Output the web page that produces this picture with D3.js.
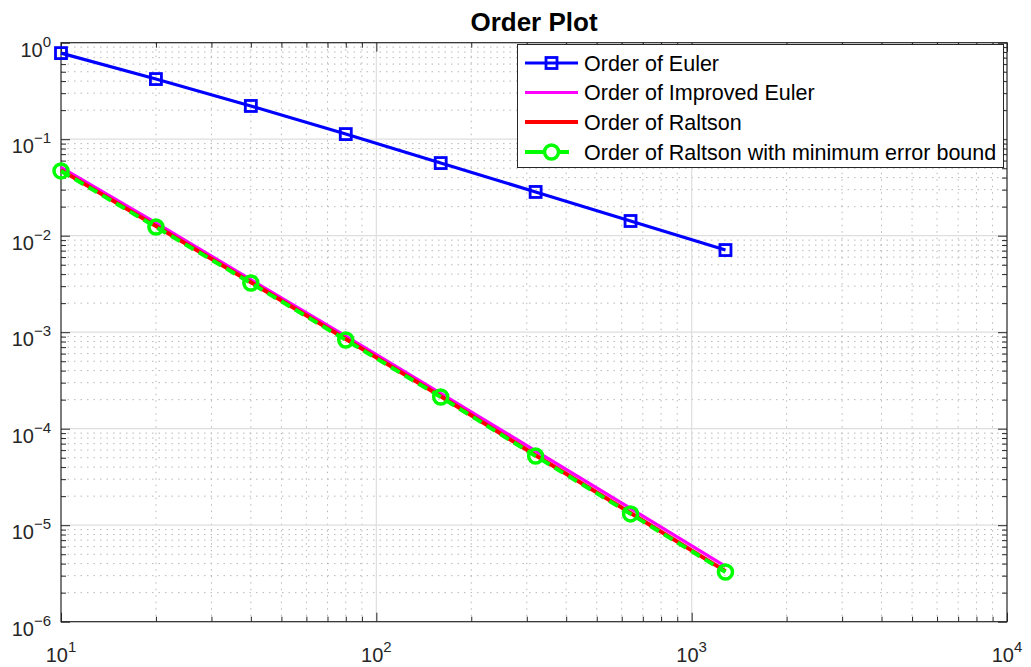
<!DOCTYPE html>
<html>
<head>
<meta charset="utf-8">
<script src="https://cdn.jsdelivr.net/npm/d3@7"></script>
<style>
  html, body { margin: 0; padding: 0; background: #fff; }
  svg { display: block; font-family: "Liberation Sans", Arial, Helvetica, sans-serif; }
</style>
</head>
<body>
<svg id="chart" width="1031" height="667"></svg>
<script>
// Step counts used in the convergence study
const stepCounts = [10, 20, 40, 80, 160, 320, 640, 1280];

// Global error for each method
const eulerErr         = [0.78, 0.42, 0.221, 0.113, 0.0566, 0.0284, 0.0142, 0.0071];
const improvedEulerErr = [0.051, 0.0136, 0.0035, 0.00091, 0.000232, 5.9e-5, 1.49e-5, 3.75e-6];
const ralstonErr       = [0.0478, 0.0126, 0.00330, 0.000850, 0.000217, 5.3e-5, 1.34e-5, 3.34e-6];
const ralstonMinErr    = [0.0469, 0.0123, 0.00323, 0.000830, 0.000213, 5.2e-5, 1.31e-5, 3.27e-6];

// Axis ticks (decades)
const xDecades = [1, 2, 3, 4];
const yDecades = [0, -1, -2, -3, -4, -5, -6];

const seriesNames = [
  "Order of Euler",
  "Order of Improved Euler",
  "Order of Raltson",
  "Order of Raltson with minimum error bound"
];

(function draw() {
  const svg = d3.select("#chart");
  const pl = 61, pr = 1007, pt = 42.7, pb = 621.7;
  const axisColor = "#262626";

  const x = d3.scaleLog().domain([10, 1e4]).range([pl, pr]);
  const y = d3.scaleLog().domain([1e-6, 1]).range([pb, pt]);

  // minor tick values
  const xMinor = [], yMinor = [];
  for (let e = 1; e < 4; e++) for (let m = 2; m <= 9; m++) xMinor.push(m * Math.pow(10, e));
  for (let e = -6; e < 0; e++) for (let m = 2; m <= 9; m++) yMinor.push(m * Math.pow(10, e));
  const xMajor = xDecades.map(d => Math.pow(10, d));
  const yMajor = yDecades.map(d => Math.pow(10, d));

  // Grid
  const grid = svg.append("g");
  grid.selectAll(".xmin").data(xMinor).join("line")
    .attr("x1", d => x(d)).attr("x2", d => x(d)).attr("y1", pt).attr("y2", pb)
    .attr("stroke", "#b8b8b8").attr("stroke-width", 1).attr("stroke-dasharray", "1.5,5");
  grid.selectAll(".ymin").data(yMinor).join("line")
    .attr("x1", pl).attr("x2", pr).attr("y1", d => y(d)).attr("y2", d => y(d))
    .attr("stroke", "#b8b8b8").attr("stroke-width", 1).attr("stroke-dasharray", "1.5,5");
  grid.selectAll(".xmaj").data(xMajor.slice(1, -1)).join("line")
    .attr("x1", d => x(d)).attr("x2", d => x(d)).attr("y1", pt).attr("y2", pb)
    .attr("stroke", "#dedede").attr("stroke-width", 1.2);
  grid.selectAll(".ymaj").data(yMajor.slice(1, -1)).join("line")
    .attr("x1", pl).attr("x2", pr).attr("y1", d => y(d)).attr("y2", d => y(d))
    .attr("stroke", "#dedede").attr("stroke-width", 1.2);

  // Axes with inward ticks on all four sides
  function tickAxis(axisFn, scale, values, size, transform) {
    const g = svg.append("g").attr("transform", transform)
      .call(axisFn(scale).tickValues(values).tickSize(size).tickFormat(""));
    g.select(".domain").remove();
    g.selectAll("line").attr("stroke", axisColor).attr("stroke-width", 1);
    return g;
  }
  tickAxis(d3.axisTop, x, xMajor, 9, `translate(0,${pb})`);
  tickAxis(d3.axisTop, x, xMinor, 5, `translate(0,${pb})`);
  tickAxis(d3.axisBottom, x, xMajor, 9, `translate(0,${pt})`);
  tickAxis(d3.axisBottom, x, xMinor, 5, `translate(0,${pt})`);
  tickAxis(d3.axisRight, y, yMajor, 9, `translate(${pl},0)`);
  tickAxis(d3.axisRight, y, yMinor, 5, `translate(${pl},0)`);
  tickAxis(d3.axisLeft, y, yMajor, 9, `translate(${pr},0)`);
  tickAxis(d3.axisLeft, y, yMinor, 5, `translate(${pr},0)`);

  svg.append("rect").attr("x", pl).attr("y", pt)
    .attr("width", pr - pl).attr("height", pb - pt)
    .attr("fill", "none").attr("stroke", axisColor).attr("stroke-width", 1.2);

  // Tick labels 10^n
  function expText(n) { return n < 0 ? "\u2212" + Math.abs(n) : String(n); }
  const xl = svg.append("g");
  xDecades.forEach(d => {
    const t = xl.append("text").attr("x", x(Math.pow(10, d))).attr("y", 662)
      .attr("text-anchor", "middle").attr("fill", axisColor).attr("font-size", 20);
    t.append("tspan").text("10");
    t.append("tspan").attr("dy", -10).attr("font-size", 15).text(expText(d));
  });
  const yl = svg.append("g");
  yDecades.forEach(d => {
    const t = yl.append("text").attr("x", 51).attr("y", y(Math.pow(10, d)) + 14)
      .attr("text-anchor", "end").attr("fill", axisColor).attr("font-size", 20);
    t.append("tspan").text("10");
    t.append("tspan").attr("dy", -10).attr("font-size", 15).text(expText(d));
  });

  // Title
  svg.append("text").attr("x", (pl + pr) / 2).attr("y", 31)
    .attr("text-anchor", "middle").attr("font-weight", "bold").attr("font-size", 26)
    .attr("fill", "#000").text("Order Plot");

  // Series
  const line = d3.line().x(d => x(d[0])).y(d => y(d[1]));
  const zip = vals => stepCounts.map((s, i) => [s, vals[i]]);
  const plot = svg.append("g");

  plot.append("path").datum(zip(eulerErr)).attr("d", line)
    .attr("fill", "none").attr("stroke", "#0000ff").attr("stroke-width", 3.2);
  plot.selectAll(".sq").data(zip(eulerErr)).join("rect")
    .attr("x", d => x(d[0]) - 5.5).attr("y", d => y(d[1]) - 5.5)
    .attr("width", 11).attr("height", 11)
    .attr("fill", "none").attr("stroke", "#0000ff").attr("stroke-width", 2.8);

  plot.append("path").datum(zip(improvedEulerErr)).attr("d", line)
    .attr("fill", "none").attr("stroke", "#ff00ff").attr("stroke-width", 3.2);

  plot.append("path").datum(zip(ralstonErr)).attr("d", line)
    .attr("fill", "none").attr("stroke", "#ff0000").attr("stroke-width", 4);

  plot.append("path").datum(zip(ralstonMinErr)).attr("d", line)
    .attr("fill", "none").attr("stroke", "#00ff00").attr("stroke-width", 4)
    .attr("stroke-dasharray", "10,6");
  plot.selectAll(".ci").data(zip(ralstonMinErr)).join("circle")
    .attr("cx", d => x(d[0])).attr("cy", d => y(d[1])).attr("r", 7)
    .attr("fill", "none").attr("stroke", "#00ff00").attr("stroke-width", 3.5);

  // Legend
  const lg = svg.append("g");
  lg.append("rect").attr("x", 517.5).attr("y", 44.5).attr("width", 486).attr("height", 123)
    .attr("fill", "#fff").attr("stroke", axisColor).attr("stroke-width", 1);
  const rowY = [63, 92.5, 122, 152];
  const lx1 = 525, lx2 = 578, lxm = 551.5;
  lg.append("line").attr("x1", lx1).attr("x2", lx2).attr("y1", rowY[0]).attr("y2", rowY[0])
    .attr("stroke", "#0000ff").attr("stroke-width", 3.2);
  lg.append("rect").attr("x", lxm - 5.5).attr("y", rowY[0] - 5.5).attr("width", 11).attr("height", 11)
    .attr("fill", "none").attr("stroke", "#0000ff").attr("stroke-width", 2.8);
  lg.append("line").attr("x1", lx1).attr("x2", lx2).attr("y1", rowY[1]).attr("y2", rowY[1])
    .attr("stroke", "#ff00ff").attr("stroke-width", 3.2);
  lg.append("line").attr("x1", lx1).attr("x2", lx2).attr("y1", rowY[2]).attr("y2", rowY[2])
    .attr("stroke", "#ff0000").attr("stroke-width", 4);
  lg.append("line").attr("x1", lx1).attr("x2", lx2).attr("y1", rowY[3]).attr("y2", rowY[3])
    .attr("stroke", "#00ff00").attr("stroke-width", 4).attr("stroke-dasharray", "18,17,9,100");
  lg.append("circle").attr("cx", lxm).attr("cy", rowY[3]).attr("r", 7)
    .attr("fill", "none").attr("stroke", "#00ff00").attr("stroke-width", 3.5);
  lg.selectAll(".lt").data(seriesNames).join("text")
    .attr("x", 584).attr("y", (d, i) => rowY[i] + 7.5)
    .attr("font-size", 21.5).attr("fill", "#000").text(d => d);
})();
</script>
</body>
</html>
